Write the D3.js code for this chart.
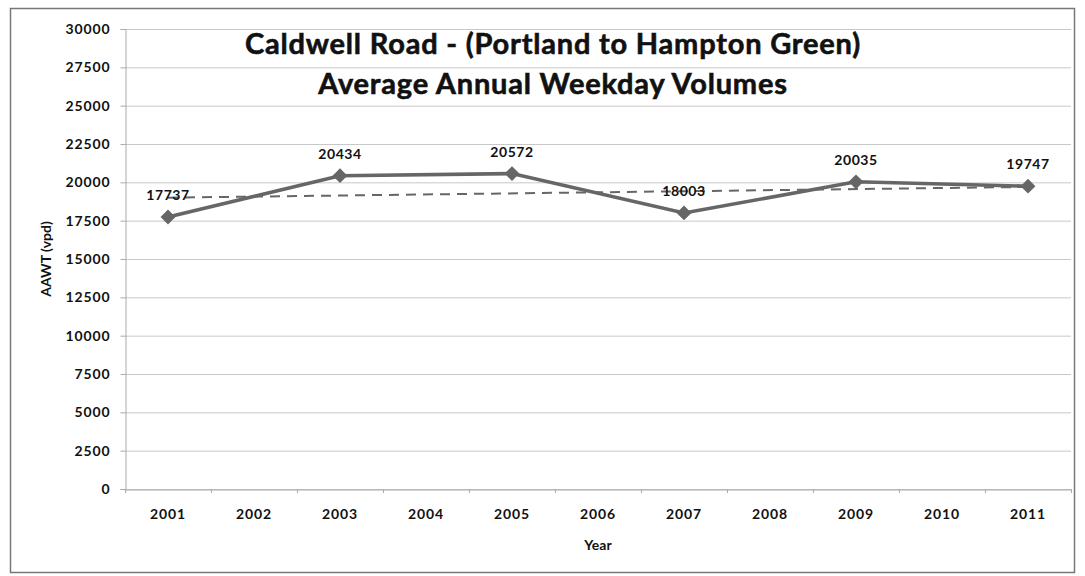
<!DOCTYPE html>
<html><head><meta charset="utf-8">
<script src="https://cdn.jsdelivr.net/npm/d3@7"></script>
<style>body{margin:0;background:#fff}svg{display:block}</style>
</head><body>
<svg id="c" width="1085" height="576"></svg>
<script>
const years = ["2001","2002","2003","2004","2005","2006","2007","2008","2009","2010","2011"];
const obsYears = ["2001","2003","2005","2007","2009","2011"];
const volumes = [17737, 20434, 20572, 18003, 20035, 19747];
const trendYears = ["2001","2011"];
const trendValues = [19000, 19700];
const yTicks = [0,2500,5000,7500,10000,12500,15000,17500,20000,22500,25000,27500,30000];
const titleLines = ["Caldwell Road - (Portland to Hampton Green)", "Average Annual Weekday Volumes"];

const svg = d3.select("#c");
const font = "Lato, 'Open Sans', sans-serif";
const m = {l:125, r:1071, t:29, b:489};

svg.append("rect").attr("x",10.5).attr("y",8.5).attr("width",1064).attr("height",564)
  .attr("fill","#fff").attr("stroke","#777").attr("stroke-width",1.5);

const x = d3.scaleBand().domain(years).range([m.l, m.r]);
const y = d3.scaleLinear().domain([0,30000]).range([m.b, m.t]);

// grid
svg.append("g").selectAll("line").data(yTicks).join("line")
  .attr("x1", m.l).attr("x2", m.r).attr("y1", d=>y(d)+0.5).attr("y2", d=>y(d)+0.5)
  .attr("stroke","#c8c8c8").attr("stroke-width",1);

// y axis
const ya = svg.append("g").attr("transform",`translate(${m.l+0.5},0)`)
  .call(d3.axisLeft(y).tickValues(yTicks).tickSize(5).tickPadding(10).tickFormat(d3.format("d")));
ya.select(".domain").attr("stroke","#aaa");
ya.selectAll(".tick line").attr("stroke","#aaa");
ya.selectAll("text").attr("font-family",font).attr("font-weight",700).attr("font-size",14)
  .attr("letter-spacing","0.9px").attr("fill","#111");

// x axis
const xa = svg.append("g").attr("transform",`translate(0,${m.b+0.5})`)
  .call(d3.axisBottom(x).tickSize(0).tickPadding(20));
xa.select(".domain").attr("stroke","#aaa");
xa.selectAll("text").attr("font-family",font).attr("font-weight",700).attr("font-size",14)
  .attr("letter-spacing","0.9px").attr("fill","#111");
svg.append("g").selectAll("line").data(years.concat(["end"])).join("line")
  .attr("x1",(d,i)=>m.l + i*x.step()+0.5).attr("x2",(d,i)=>m.l + i*x.step()+0.5)
  .attr("y1",m.b).attr("y2",m.b+4).attr("stroke","#aaa");

// trend
const cx = d=>x(d)+x.bandwidth()/2;
svg.append("path")
  .attr("d", d3.line()(trendYears.map((d,i)=>[cx(d), y(trendValues[i])])))
  .attr("fill","none").attr("stroke","#666").attr("stroke-width",2).attr("stroke-dasharray","10,7");

// series
svg.append("path")
  .attr("d", d3.line()(obsYears.map((d,i)=>[cx(d), y(volumes[i])])))
  .attr("fill","none").attr("stroke","#666").attr("stroke-width",3.6);
svg.append("g").selectAll("path").data(obsYears).join("path")
  .attr("transform",(d,i)=>`translate(${cx(d)},${y(volumes[i])})`)
  .attr("d", d3.symbol(d3.symbolDiamond2, 140)())
  .attr("fill","#666");

// labels
svg.append("g").selectAll("text").data(obsYears).join("text")
  .attr("x",d=>cx(d)).attr("y",(d,i)=>y(volumes[i])-17)
  .attr("text-anchor","middle").attr("font-family",font).attr("font-size",14).attr("font-weight",700)
  .attr("letter-spacing","0.6px").attr("fill","#111").text((d,i)=>volumes[i]);

// title
svg.append("g").selectAll("text").data(titleLines).join("text")
  .attr("x",553).attr("y",(d,i)=>54+i*40).attr("text-anchor","middle")
  .attr("font-family",font).attr("font-weight",700).attr("font-size",29).attr("fill","#111")
  .attr("letter-spacing","0.8px")
  .attr("stroke","#111").attr("stroke-width",0.6)
  .text(d=>d);

// axis titles
svg.append("text").attr("transform","translate(51,259) rotate(-90)").attr("text-anchor","middle")
  .attr("font-family",font).attr("font-weight",700).attr("font-size",14).attr("fill","#111").text("AAWT (vpd)");
svg.append("text").attr("x",598).attr("y",550).attr("text-anchor","middle")
  .attr("font-family",font).attr("font-weight",700).attr("font-size",14).attr("fill","#111").text("Year");
</script>
</body></html>
